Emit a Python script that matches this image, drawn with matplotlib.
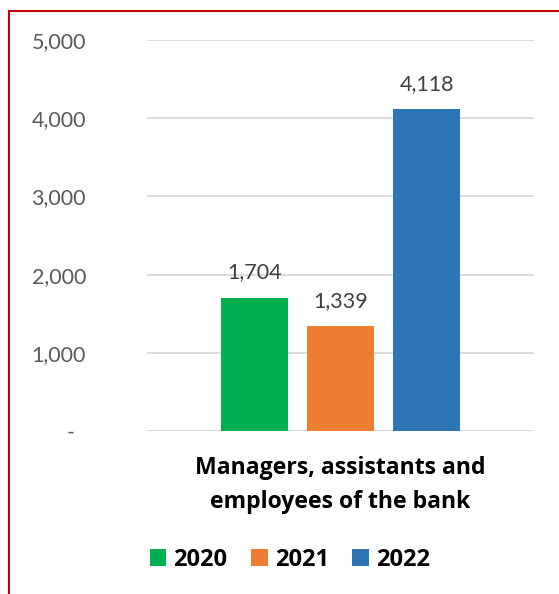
import matplotlib
matplotlib.use("Agg")
import matplotlib.pyplot as plt
from matplotlib.patches import Patch
from matplotlib.lines import Line2D

years = ["2020", "2021", "2022"]
values = [1704, 1339, 4118]
colors = ["#00B050", "#ED7D31", "#2E75B6"]
category = "Managers, assistants and\nemployees of the bank"
yticks = [0, 1000, 2000, 3000, 4000, 5000]
ytick_labels = ["-  ", "1,000", "2,000", "3,000", "4,000", "5,000"]

plt.rcParams['font.family'] = ['Lato', 'DejaVu Sans']

fig = plt.figure(figsize=(5.59, 5.94), dpi=100)
ax = fig.add_axes([147/559, 1-431/594, (534-147)/559, (431-40)/594])

xpos = [-1, 0, 1]
bars = ax.bar(xpos, values, width=0.79, color=colors, zorder=3)
ax.bar_label(bars, labels=[f"{v:,}" for v in values], padding=11,
             fontsize=15.5, color="#404040")

ax.set_xlim(-2.25, 2.25)
ax.set_ylim(0, 5000)
ax.set_yticks(yticks)
ax.set_yticklabels(ytick_labels)
ax.tick_params(axis='y', length=0, pad=44, labelsize=15.5, labelcolor="#595959")
ax.set_xticks([])
ax.grid(axis='y', color="#D9D9D9", linewidth=1.3, zorder=0)
for s in ax.spines.values():
    s.set_visible(False)

fig.text(340/559, 1-485/594, category, ha='center', va='center',
         fontsize=16.6, fontweight='bold', color='black', linespacing=1.6,
         family=['Open Sans', 'DejaVu Sans'])

handles = [Patch(facecolor=c, edgecolor='none') for c in colors]
fig.legend(handles, years, loc='center', bbox_to_anchor=(290/559, 1-560/594),
           ncol=3, frameon=False,
           prop={'weight': 'bold', 'size': 17, 'family': ['Open Sans', 'DejaVu Sans']},
           handlelength=0.7, handleheight=0.7, handletextpad=0.3,
           columnspacing=1.0)

# red border (left and top)
fig.add_artist(Line2D([8.5/559, 8.5/559], [0, 1-10.5/594], color="#C00000",
                      linewidth=1.5, transform=fig.transFigure))
fig.add_artist(Line2D([8.5/559, 1], [1-10.5/594, 1-10.5/594], color="#C00000",
                      linewidth=1.5, transform=fig.transFigure))

fig.savefig("out.png", dpi=100, facecolor='white')
